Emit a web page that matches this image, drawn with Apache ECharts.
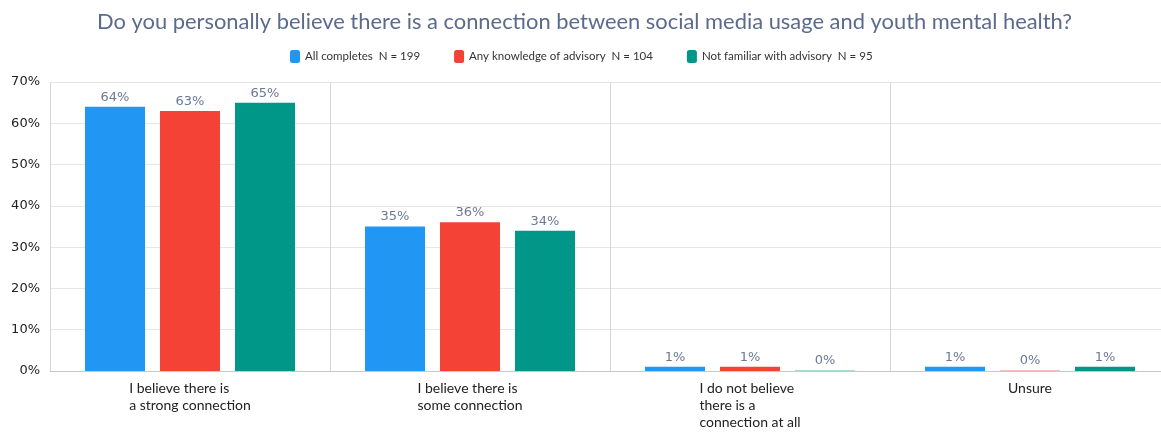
<!DOCTYPE html>
<html>
<head>
<meta charset="utf-8">
<script src="https://cdn.jsdelivr.net/npm/echarts@6/dist/echarts.min.js"></script>
<style>
  html, body { margin: 0; padding: 0; background: #fff; }
  #chart { width: 1161px; height: 433px; }
</style>
</head>
<body>
<div id="chart"></div>
<script>
const titleText = 'Do you personally believe there is a connection between social media usage and youth mental health?';
const categories = [
  'I believe there is\na strong connection',
  'I believe there is\nsome connection',
  'I do not believe\nthere is a\nconnection at all',
  'Unsure'
];
const seriesNames = [
  'All completes  N = 199',
  'Any knowledge of advisory  N = 104',
  'Not familiar with advisory  N = 95'
];
const allCompletes = [64, 35, 1, 1];
const anyKnowledge = [63, 36, 1, 0];
const notFamiliar = [65, 34, 0, 1];
const colors = ['#2196f3', '#f44336', '#009688'];
const fadedColors = ['rgba(33,150,243,0.35)', 'rgba(244,67,54,0.35)', 'rgba(0,150,136,0.35)'];
const yTicks = [0, 10, 20, 30, 40, 50, 60, 70];

const seriesValues = [allCompletes, anyKnowledge, notFamiliar];

const chart = echarts.init(document.getElementById('chart'), null, { renderer: 'canvas' });

chart.setOption({
  animation: false,
  color: colors,
  title: {
    text: titleText,
    left: 92,
    top: 6,
    textStyle: { fontFamily: 'Lato', fontSize: 21.9, fontWeight: 'normal', color: '#5b6a8d' }
  },
  legend: {
    top: 45,
    left: 285,
    itemWidth: 10,
    itemHeight: 13,
    itemGap: 34,
    icon: 'roundRect',
    textStyle: { fontFamily: 'Lato', fontSize: 11.5, color: '#333' },
    data: seriesNames
  },
  grid: { left: 50, width: 1120, top: 82, bottom: 62, outerBoundsMode: 'none' },
  xAxis: {
    type: 'category',
    data: categories,
    axisTick: { show: false },
    axisLine: { lineStyle: { color: '#c8c8c8' } },
    splitLine: { show: true, lineStyle: { color: '#d6d6d6', width: 1 } },
    axisLabel: {
      margin: 9,
      interval: 0,
      formatter: v => '{t|' + v + '}',
      rich: {
        t: { align: 'left', fontFamily: 'Lato', fontSize: 14, lineHeight: 17, color: '#222' }
      }
    }
  },
  yAxis: {
    type: 'value',
    min: yTicks[0],
    max: yTicks[yTicks.length - 1],
    interval: 10,
    axisLine: { show: false },
    axisTick: { show: false },
    splitLine: { lineStyle: { color: '#e6e6e6' } },
    axisLabel: {
      margin: 10,
      fontFamily: 'DejaVu Sans',
      fontSize: 13,
      color: '#222',
      formatter: '{value}%'
    }
  },
  series: seriesNames.map((name, i) => ({
    name,
    type: 'bar',
    barWidth: 60,
    barGap: '25%',
    data: seriesValues[i].map(v => ({
      value: v,
      itemStyle: v === 0 ? { color: fadedColors[i] } : undefined
    })),
    barMinHeight: 1,
    label: {
      show: true,
      position: 'top',
      distance: 3,
      formatter: '{c}%',
      fontFamily: 'DejaVu Sans',
      fontSize: 13,
      color: '#6b7896'
    }
  }))
});
</script>
</body>
</html>
